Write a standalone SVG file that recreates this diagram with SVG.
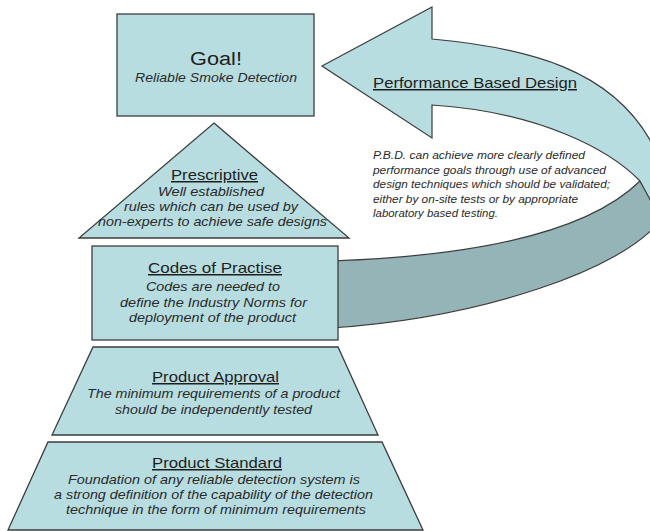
<svg xmlns="http://www.w3.org/2000/svg" width="650" height="531" viewBox="0 0 650 531">
  <style>
    .box { fill: #b8dde1; stroke: #3c3c3c; stroke-width: 1.3; stroke-linejoin: miter; }
    .band-light { fill: #b8dde1; stroke: #3c3c3c; stroke-width: 1.2; stroke-linejoin: miter; }
    .band-dark { fill: #95b4b8; stroke: #3c3c3c; stroke-width: 1.2; stroke-linejoin: miter; }
    text { font-family: "Liberation Sans", Arial, sans-serif; fill: #1e1e1e; }
    .head { font-size: 15px; text-decoration: underline; }
    .body { font-size: 13px; font-style: italic; fill: #2a2a2a; }
    .note { font-size: 11.5px; font-style: italic; fill: #2a2a2a; }
  </style>

  <!-- curved Performance Based Design ribbon arrow -->
  <g id="connectors">
    <path class="band-dark" d="M640,181 L662,218 C625,270 480,318 330,328 L330,261 C450,257 580,240 640,181 Z"/>
    <path class="band-light" d="M322,66 L432,7 L432,39 C530,48 610,70 650,140 C662,165 666,195 661,220 L640,181 C610,150 540,112 432,105 L432,138 Z"/>
  </g>

  <g id="pbd-label">
    <text class="head" x="373" y="88" font-size="15.5" textLength="204" lengthAdjust="spacingAndGlyphs">Performance Based Design</text>
    <text class="note" x="373" y="159" textLength="212" lengthAdjust="spacingAndGlyphs">P.B.D. can achieve more clearly defined</text>
    <text class="note" x="373" y="174" textLength="233" lengthAdjust="spacingAndGlyphs">performance goals through use of advanced</text>
    <text class="note" x="373" y="188" textLength="237" lengthAdjust="spacingAndGlyphs">design techniques which should be validated;</text>
    <text class="note" x="373" y="203" textLength="205" lengthAdjust="spacingAndGlyphs">either by on-site tests or by appropriate</text>
    <text class="note" x="373" y="217" textLength="125" lengthAdjust="spacingAndGlyphs">laboratory based testing.</text>
  </g>

  <g id="goal">
    <rect class="box" x="117" y="14" width="197" height="102"/>
    <text x="190" y="65" font-size="18" textLength="52" lengthAdjust="spacingAndGlyphs">Goal!</text>
    <text class="body" x="135" y="82" textLength="162" lengthAdjust="spacingAndGlyphs">Reliable Smoke Detection</text>
  </g>

  <g id="prescriptive">
    <polygon class="box" points="214,123 349,238 79,238"/>
    <text class="head" x="171" y="180" textLength="87" lengthAdjust="spacingAndGlyphs">Prescriptive</text>
    <text class="body" x="158" y="196" textLength="106" lengthAdjust="spacingAndGlyphs">Well established</text>
    <text class="body" x="124" y="211" textLength="174" lengthAdjust="spacingAndGlyphs">rules which can be used by</text>
    <text class="body" x="98" y="226" textLength="229" lengthAdjust="spacingAndGlyphs">non-experts to achieve safe designs</text>
  </g>

  <g id="codes">
    <rect class="box" x="92" y="246" width="246" height="94"/>
    <text class="head" x="148" y="273" textLength="134" lengthAdjust="spacingAndGlyphs">Codes of Practise</text>
    <text class="body" x="146" y="291" textLength="134" lengthAdjust="spacingAndGlyphs">Codes are needed to</text>
    <text class="body" x="120" y="307" textLength="187" lengthAdjust="spacingAndGlyphs">define the Industry Norms for</text>
    <text class="body" x="129" y="322" textLength="167" lengthAdjust="spacingAndGlyphs">deployment of the product</text>
  </g>

  <g id="approval">
    <polygon class="box" points="93,347 338,347 378,435 52,435"/>
    <text class="head" x="152" y="382" textLength="127" lengthAdjust="spacingAndGlyphs">Product Approval</text>
    <text class="body" x="87" y="398" textLength="253" lengthAdjust="spacingAndGlyphs">The minimum requirements of a product</text>
    <text class="body" x="115" y="414" textLength="197" lengthAdjust="spacingAndGlyphs">should be independently tested</text>
  </g>

  <g id="standard">
    <polygon class="box" points="48,442 382,442 423,530 8,530"/>
    <text class="head" x="152" y="468" textLength="130" lengthAdjust="spacingAndGlyphs">Product Standard</text>
    <text class="body" x="68" y="484" textLength="292" lengthAdjust="spacingAndGlyphs">Foundation of any reliable detection system is</text>
    <text class="body" x="54" y="499" textLength="319" lengthAdjust="spacingAndGlyphs">a strong definition of the capability of the detection</text>
    <text class="body" x="66" y="514" textLength="300" lengthAdjust="spacingAndGlyphs">technique in the form of minimum requirements</text>
  </g>
</svg>
